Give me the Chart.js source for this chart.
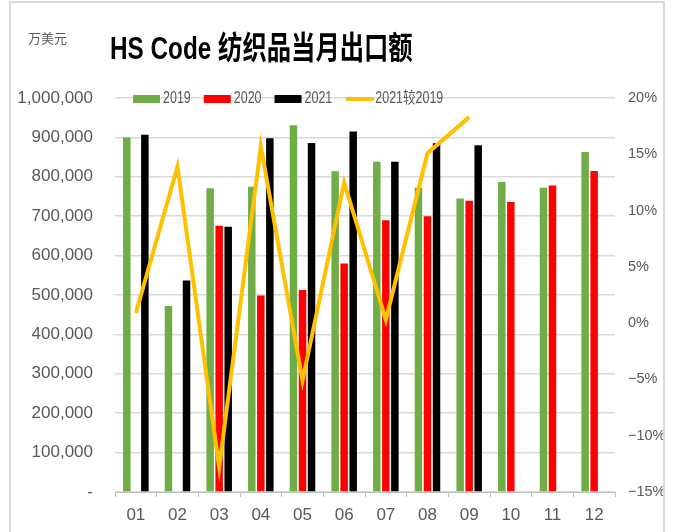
<!DOCTYPE html>
<html>
<head>
<meta charset="utf-8">
<script src="https://cdn.jsdelivr.net/npm/chart.js@4"></script>
<style>
	html, body { margin: 0; padding: 0; background: #fff; }
	#wrap { position: relative; width: 673px; height: 532px; overflow: hidden; }
	#frame { position: absolute; left: 9px; top: 1px; width: 652px; height: 600px; border: 2px solid #d9d9d9; pointer-events: none; }
</style>
</head>
<body>
<div id="wrap">
	<canvas id="exportChart" width="673" height="532"></canvas>
	<div id="frame"></div>
</div>
<script>
const months = ["01", "02", "03", "04", "05", "06", "07", "08", "09", "10", "11", "12"];
const exp2019 = [900000, 472000, 771000, 775000, 931000, 814000, 838000, 772000, 745000, 787000, 772000, 863000];
const exp2020 = [null, null, 676000, 499000, 513000, 580000, 690000, 700000, 739000, 736000, 778000, 815000];
const exp2021 = [907000, 537000, 673000, 898000, 886000, 915000, 838000, 885000, 880000, null, null, null];
const vs2019 = [0.009, 0.139, -0.128, 0.157, -0.051, 0.125, 0.003, 0.151, 0.183, null, null, null];

const tickFont = { family: "'Liberation Sans', 'DejaVu Sans'", style: "condensed", size: 17 };
const grey = "#595959";

// narrow text drawn by squeezing it sideways
function narrowText(ctx, text, x, y, sx) {
	ctx.save();
	ctx.translate(x, y);
	ctx.scale(sx, 1);
	ctx.fillText(text, 0, 0);
	ctx.restore();
	return ctx.measureText(text).width * sx;
}

// title, unit and legend drawn by hand so they can sit like the original
const decorPlugin = {
	id: "decor",
	afterDraw(chart) {
		const ctx = chart.ctx;
		ctx.save();
		ctx.fillStyle = grey;
		ctx.font = "13px 'Noto Sans CJK SC'";
		ctx.textBaseline = "middle";
		ctx.fillText("万美元", 28, 38);

		ctx.fillStyle = "#000";
		ctx.font = "bold 32px 'Liberation Sans', 'Noto Sans CJK SC'";
		narrowText(ctx, "HS Code 纺织品当月出口额", 110, 50, 0.76);

		let x = 133;
		const y = chart.chartArea.top + 1;
		ctx.font = "16px 'Liberation Sans', 'Noto Sans CJK SC'";
		chart.data.datasets.forEach((ds) => {
			if (ds.type === "line") {
				ctx.strokeStyle = ds.borderColor;
				ctx.lineWidth = 4;
				ctx.lineCap = "round";
				ctx.beginPath();
				ctx.moveTo(x + 2, y);
				ctx.lineTo(x + 27, y);
				ctx.stroke();
			} else {
				ctx.fillStyle = ds.backgroundColor;
				ctx.fillRect(x, y - 4, 27, 8);
			}
			x += 30;
			ctx.fillStyle = grey;
			x += narrowText(ctx, ds.label, x, y, 0.78) + 13;
		});
		ctx.restore();
	},
};

const ctx = document.getElementById("exportChart").getContext("2d");
new Chart(ctx, {
	data: {
		labels: months,
		datasets: [
			{ type: "bar", label: "2019", data: exp2019, backgroundColor: "#70AD47", yAxisID: "y", order: 1 },
			{ type: "bar", label: "2020", data: exp2020, backgroundColor: "#FF0000", yAxisID: "y", order: 1 },
			{ type: "bar", label: "2021", data: exp2021, backgroundColor: "#000000", yAxisID: "y", order: 1 },
			{
				type: "line",
				label: "2021较2019",
				data: vs2019,
				borderColor: "#FFC000",
				backgroundColor: "#FFC000",
				borderWidth: 4,
				pointRadius: 0,
				tension: 0,
				yAxisID: "y1",
				order: 0,
			},
		],
	},
	options: {
		responsive: false,
		animation: false,
		categoryPercentage: 0.65,
		barPercentage: 0.83,
		layout: { padding: { top: 98, left: 0, right: 0, bottom: 0 } },
		plugins: {
			legend: { display: false },
			title: { display: false },
			tooltip: { enabled: false },
		},
		scales: {
			x: {
				offset: true,
				grid: { drawOnChartArea: false, drawTicks: true, tickLength: 5, color: "#bfbfbf", offset: true },
				border: { display: true, color: "#bfbfbf", width: 1 },
				ticks: { font: tickFont, color: grey, padding: 8, maxRotation: 0 },
				afterFit: (scale) => { scale.height = 40; },
			},
			y: {
				position: "left",
				min: 0,
				max: 1000000,
				grid: { color: "#d9d9d9", lineWidth: 1.5, drawTicks: false },
				border: { display: false },
				ticks: {
					stepSize: 100000,
					font: tickFont,
					color: grey,
					padding: 22,
					callback: (v) => (v === 0 ? "-" : v.toLocaleString("en-US")),
				},
				afterFit: (scale) => { scale.width = 115; },
			},
			y1: {
				position: "right",
				min: -0.15,
				max: 0.2,
				grid: { drawOnChartArea: false, drawTicks: false },
				border: { display: false },
				ticks: {
					stepSize: 0.05,
					font: { family: "'Liberation Sans', 'DejaVu Sans'", size: 14.5 },
					color: grey,
					padding: 13,
					callback: (v) => {
						const p = Math.round(v * 100);
						return (p < 0 ? "\u2212" + Math.abs(p) : p) + "%";
					},
				},
				afterFit: (scale) => { scale.width = 58; },
			},
		},
	},
	plugins: [decorPlugin],
});
</script>
</body>
</html>
